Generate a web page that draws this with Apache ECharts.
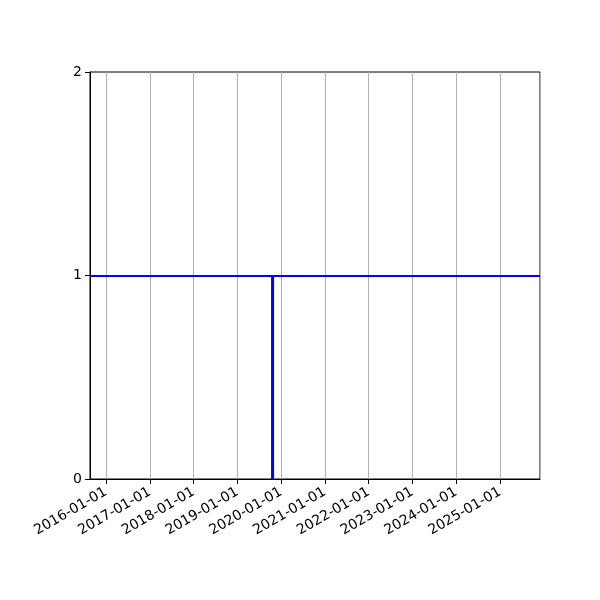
<!DOCTYPE html>
<html lang="en">

<head>
  <meta charset="UTF-8">
  <title>Chart</title>
  <style>
    html, body { margin: 0; padding: 0; background: #fff; }
    #chart { width: 600px; height: 600px; }
  </style>
</head>

<body>
  <div id="chart"></div>
  <script src="https://cdn.jsdelivr.net/npm/echarts@6/dist/echarts.min.js"></script>
  <script>
    // x range of the axes
    const xRange = ['2015-08-21', '2025-11-30'];
    // y range and ticks
    const yRange = [0, 2];
    // horizontal reference level
    const hLevel = 1;
    // vertical line: date and its y extent
    const vDate = '2019-10-22';
    const vSpan = [0, 1];

    const chart = echarts.init(document.getElementById('chart'));
    const font = 'DejaVu Sans';

    chart.setOption({
      animation: false,
      grid: {
        left: 90, right: 60, top: 72, bottom: 121,
        show: true, borderColor: '#000', borderWidth: 1,
      },
      xAxis: {
        type: 'time',
        min: xRange[0],
        max: xRange[1],
        minInterval: 365 * 24 * 3600 * 1000,
        splitNumber: 10,
        axisLine: { show: true, lineStyle: { color: '#000', width: 1 } },
        axisTick: { show: true, length: 5, lineStyle: { color: '#000' } },
        axisLabel: {
          rotate: 30,
          color: '#000',
          fontFamily: font,
          fontSize: 14,
          margin: 12,
          formatter: '{yyyy}-{MM}-{dd}',
          showMinLabel: false,
          showMaxLabel: false,
        },
        splitLine: { show: true, lineStyle: { color: '#b0b0b0', width: 1 } },
      },
      yAxis: {
        type: 'value',
        min: yRange[0],
        max: yRange[1],
        interval: 1,
        axisLine: { show: true, lineStyle: { color: '#000', width: 1 } },
        axisTick: { show: true, length: 5, lineStyle: { color: '#000' } },
        axisLabel: { color: '#000', fontFamily: font, fontSize: 14, margin: 8 },
        splitLine: { show: false },
      },
      series: [
        {
          type: 'line',
          data: vSpan.map(v => [vDate, v]),
          symbol: 'none',
          lineStyle: { color: '#0000ff', width: 3 },
          markLine: {
            silent: true,
            symbol: 'none',
            label: { show: false },
            lineStyle: { color: '#0000ff', width: 2, type: 'solid' },
            data: [{ yAxis: hLevel }],
          },
        },
      ],
    });
  </script>
</body>

</html>
